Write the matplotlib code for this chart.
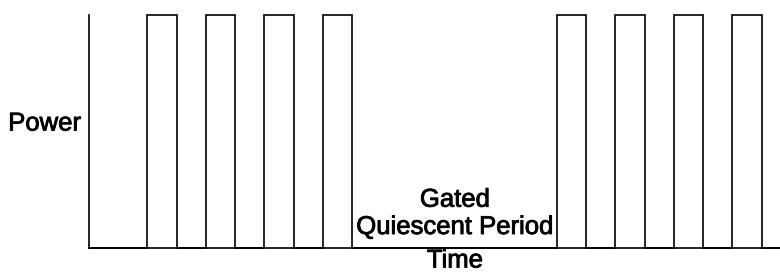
import matplotlib
matplotlib.use("Agg")
import matplotlib.pyplot as plt
import matplotlib.transforms as mtransforms
import matplotlib.patheffects as pe

plt.rcParams['font.family'] = ['Liberation Sans', 'DejaVu Sans']

# Pulse train (time units), power level 0/1
pulse_starts = [2, 4, 6, 8, 16, 18, 20, 22]
pulse_ends = [3, 5, 7, 9, 17, 19, 21, 23]
pulse_level = 1.0
t_end = 23.63

y_label = "Power"
x_label = "Time"
annot_lines = ["Gated", "Quiescent Period"]
annot_x = 12.52

# build waveform
t = [0.0]
p = [0.0]
for s, e in zip(pulse_starts, pulse_ends):
    t += [s, s, e, e]
    p += [0.0, pulse_level, pulse_level, 0.0]
t.append(t_end)
p.append(0.0)

W, H = 780, 273
fig = plt.figure(figsize=(W / 100, H / 100), dpi=100)
x0, x1 = 88.8, 780
ytop, ybot = 15, 248.3
ax = fig.add_axes([x0 / W, (H - ybot) / H, (x1 - x0) / W, (ybot - ytop) / H])
ax.plot(t, p, color='black', lw=1.2, clip_on=False, solid_joinstyle='miter')
ax.set_xlim(0, t_end)
ax.set_ylim(0, pulse_level)
for side in ['top', 'right']:
    ax.spines[side].set_visible(False)
for side in ['left', 'bottom']:
    ax.spines[side].set_linewidth(1.2)
ax.set_xticks([])
ax.set_yticks([])

fs = 18.5
effects = [pe.withStroke(linewidth=0.6, foreground='black')]
ax.text(-0.011, (ybot - 130.5) / (ybot - ytop), y_label, transform=ax.transAxes,
        ha='right', va='baseline', fontsize=fs, path_effects=effects)
trans = mtransforms.blended_transform_factory(ax.transData, ax.transAxes)
ax.text(annot_x, (ybot - 206.7) / (ybot - ytop), annot_lines[0], transform=trans,
        ha='center', va='baseline', fontsize=fs, path_effects=effects)
ax.text(annot_x, (ybot - 234) / (ybot - ytop), annot_lines[1], transform=trans,
        ha='center', va='baseline', fontsize=fs, path_effects=effects)
ax.text(annot_x, (ybot - 267.5) / (ybot - ytop), x_label, transform=trans,
        ha='center', va='baseline', fontsize=fs, path_effects=effects)

fig.savefig("out.png", dpi=100)
